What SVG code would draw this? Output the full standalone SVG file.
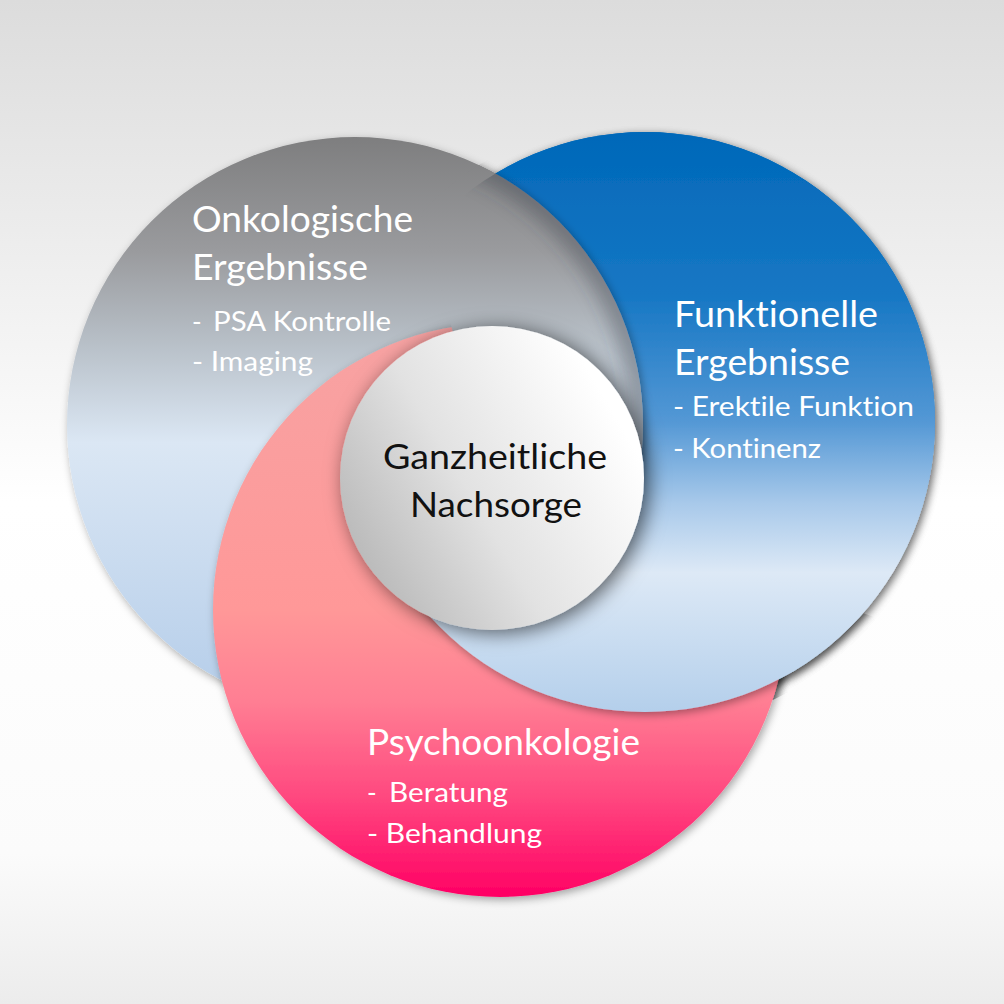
<svg xmlns="http://www.w3.org/2000/svg" width="1004" height="1004" viewBox="0 0 1004 1004">
<style>
text{font-variant-ligatures:none;font-family:Lato,"Open Sans","Liberation Sans",sans-serif}
.title{font-size:36px;fill:#ffffff}
.item{font-size:26px;fill:#ffffff}
.center{font-size:35px;fill:#111111;text-anchor:middle}
</style>
<defs>
<linearGradient id="bg" x1="0" y1="0" x2="0" y2="1">
<stop offset="0" stop-color="#dcdcdc"/>
<stop offset="0.5" stop-color="#ffffff"/>
<stop offset="0.85" stop-color="#fbfbfb"/>
<stop offset="1" stop-color="#ececec"/>
</linearGradient>
<linearGradient id="gGray" x1="0" y1="0" x2="0" y2="1">
<stop offset="0" stop-color="#7e7e7f"/>
<stop offset="0.2" stop-color="#9a9b9e"/>
<stop offset="0.36" stop-color="#b8c0c8"/>
<stop offset="0.53" stop-color="#dbe7f4"/>
<stop offset="1" stop-color="#b3cce9"/>
</linearGradient>
<linearGradient id="gBlue" x1="0" y1="0" x2="0" y2="1">
<stop offset="0" stop-color="#0068b9"/>
<stop offset="0.28" stop-color="#1677c4"/>
<stop offset="0.5" stop-color="#5498d5"/>
<stop offset="0.64" stop-color="#a8c9ea"/>
<stop offset="0.76" stop-color="#dde9f6"/>
<stop offset="1" stop-color="#b4cfeb"/>
</linearGradient>
<linearGradient id="gPink" x1="0" y1="0" x2="0" y2="1">
<stop offset="0" stop-color="#f7a3a3"/>
<stop offset="0.5" stop-color="#ff9898"/>
<stop offset="0.66" stop-color="#ff7e93"/>
<stop offset="0.82" stop-color="#ff4a80"/>
<stop offset="1" stop-color="#ff0064"/>
</linearGradient>
<linearGradient id="gWhite" x1="0" y1="0.7" x2="0.85" y2="0.2">
<stop offset="0" stop-color="#b8b8b8"/>
<stop offset="0.45" stop-color="#e2e2e2"/>
<stop offset="1" stop-color="#ffffff"/>
</linearGradient>
<filter id="sh" x="-20%" y="-20%" width="140%" height="140%">
<feDropShadow dx="2" dy="3" stdDeviation="4" flood-color="#000000" flood-opacity="0.35"/>
</filter>
<filter id="shW" x="-30%" y="-30%" width="160%" height="160%">
<feDropShadow dx="5" dy="3" stdDeviation="10" flood-color="#000000" flood-opacity="0.6"/>
</filter>
<filter id="blur8" x="-20%" y="-20%" width="140%" height="140%">
<feGaussianBlur stdDeviation="9"/>
</filter>
<clipPath id="clipGray"><circle cx="355" cy="425" r="288"/></clipPath>
<clipPath id="clipBlue"><circle cx="645" cy="422" r="290"/></clipPath>
<clipPath id="clipBlueBig"><circle cx="645" cy="422" r="306"/></clipPath>
<mask id="secA" maskUnits="userSpaceOnUse" x="-100" y="-100" width="1200" height="1200"><polygon points="492,478 -284,-2420 3311,-548 1992,3076" fill="#ffffff" clip-path="url(#clipBlueBig)"/></mask>
<mask id="secB" maskUnits="userSpaceOnUse" x="-100" y="-100" width="1200" height="1200"><polygon points="492,478 3311,1504 -2106,1978" fill="#ffffff" clip-path="url(#clipBlueBig)"/></mask>
<circle id="cGray" cx="355" cy="425" r="288" fill="url(#gGray)" filter="url(#sh)"/>
<circle id="cBlue" cx="645" cy="422" r="290" fill="url(#gBlue)" filter="url(#sh)"/>
<circle id="cPink" cx="500" cy="610" r="287" fill="url(#gPink)" filter="url(#sh)"/>
</defs>
<rect x="0" y="0" width="1004" height="1004" fill="url(#bg)"/>
<g id="rings">
<g id="base">
<use href="#cBlue"/><use href="#cGray"/><use href="#cPink"/>
</g>
<g id="sector-a" mask="url(#secA)">
<use href="#cPink"/><use href="#cBlue"/><use href="#cGray"/>
<g clip-path="url(#clipBlue)"><g clip-path="url(#clipGray)">
<circle cx="355" cy="425" r="288" fill="none" stroke="#3a3f48" stroke-opacity="0.4" stroke-width="26" filter="url(#blur8)"/>
</g></g>
</g>
<g id="sector-b" mask="url(#secB)">
<use href="#cGray"/><use href="#cPink"/><use href="#cBlue"/>
</g>
</g>
<g id="node-onko">
<text class="title" x="192" y="232" textLength="221" lengthAdjust="spacingAndGlyphs">Onkologische</text>
<text class="title" x="192" y="280" textLength="176" lengthAdjust="spacingAndGlyphs">Ergebnisse</text>
<text class="item" x="192" y="331">-<tspan x="213" textLength="178" lengthAdjust="spacingAndGlyphs">PSA Kontrolle</tspan></text>
<text class="item" x="192" y="371" textLength="121" lengthAdjust="spacingAndGlyphs">- Imaging</text>
</g>
<g id="node-funk">
<text class="title" x="674" y="327" textLength="204" lengthAdjust="spacingAndGlyphs">Funktionelle</text>
<text class="title" x="674" y="375" textLength="176" lengthAdjust="spacingAndGlyphs">Ergebnisse</text>
<text class="item" x="673" y="416" textLength="241" lengthAdjust="spacingAndGlyphs">- Erektile Funktion</text>
<text class="item" x="673" y="458" textLength="148" lengthAdjust="spacingAndGlyphs">- Kontinenz</text>
</g>
<g id="node-psycho">
<text class="title" x="367" y="755" textLength="273" lengthAdjust="spacingAndGlyphs">Psychoonkologie</text>
<text class="item" x="367" y="802">-<tspan x="389" textLength="119" lengthAdjust="spacingAndGlyphs">Beratung</tspan></text>
<text class="item" x="367" y="843" textLength="175" lengthAdjust="spacingAndGlyphs">- Behandlung</text>
</g>
<g id="node-center">
<circle cx="492" cy="478" r="152" fill="url(#gWhite)" filter="url(#shW)"/>
<text class="center" x="495" y="469" textLength="224" lengthAdjust="spacingAndGlyphs">Ganzheitliche</text>
<text class="center" x="496" y="517" textLength="172" lengthAdjust="spacingAndGlyphs">Nachsorge</text>
</g>
<g id="connectors"/>
</svg>
